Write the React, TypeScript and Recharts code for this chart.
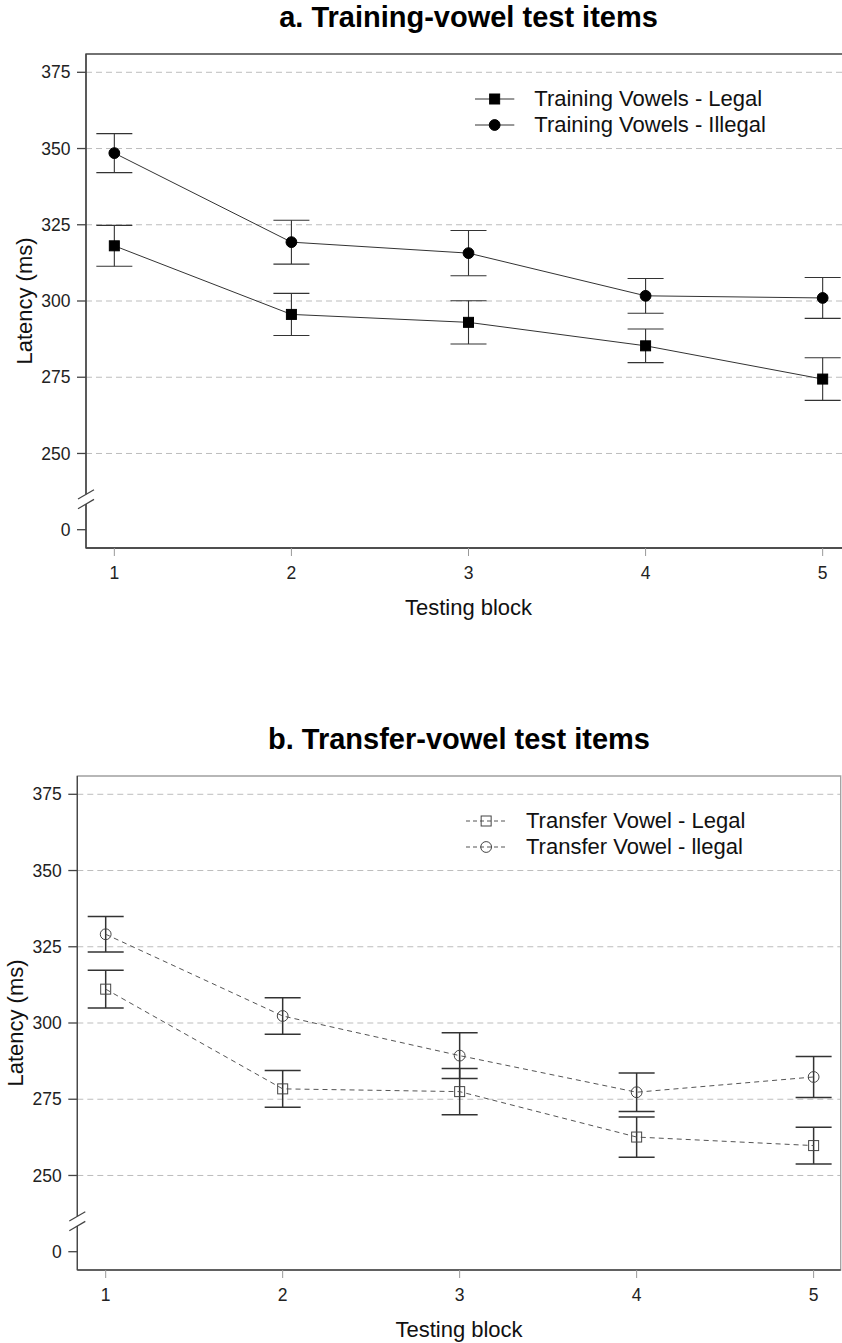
import { LineChart, Line, XAxis, YAxis, CartesianGrid, ErrorBar, ReferenceArea, Legend } from 'recharts'

const blocks = [1, 2, 3, 4, 5]

const trainLegal = [318.1, 295.6, 293.0, 285.3, 274.4]
const trainLegalErr = [6.7, 6.9, 7.1, 5.5, 7.0]
const trainIllegal = [348.5, 319.3, 315.7, 301.7, 301.0]
const trainIllegalErr = [6.4, 7.2, 7.4, 5.7, 6.7]

const transferLegal = [311.1, 278.4, 277.5, 262.6, 259.8]
const transferLegalErr = [6.2, 6.0, 7.6, 6.6, 6.0]
const transferIllegal = [329.1, 302.3, 289.3, 277.3, 282.3]
const transferIllegalErr = [5.8, 6.0, 7.5, 6.3, 6.7]

// broken axis: "0" is drawn one step below 250, the break marks sit between
const ZERO_POS = 225
const BREAK_POS = 235
const yTicks = [ZERO_POS, BREAK_POS, 250, 275, 300, 325, 350, 375]
const gridValues = [250, 275, 300, 325, 350, 375]
const Y_DOMAIN: [number, number] = [219, 381]

const FONT = '"Liberation Sans", Arial, Helvetica, sans-serif'
const TICK_SIZE = 9
const TICK_MARGIN = 6.5

function buildRows(legal: number[], legalErr: number[], illegal: number[], illegalErr: number[]) {
  return blocks.map((b, i) => ({
    block: b,
    legal: legal[i],
    legalErr: legalErr[i],
    illegal: illegal[i],
    illegalErr: illegalErr[i],
  }))
}

function marker(shape: 'square' | 'circle', open: boolean, cx: number, cy: number, key?: string | number) {
  const fill = open ? 'none' : '#000'
  const stroke = open ? '#444' : '#000'
  if (shape === 'square') {
    return <rect key={key} x={cx - 5} y={cy - 5} width={10} height={10} fill={fill} stroke={stroke} strokeWidth={1} />
  }
  return <circle key={key} cx={cx} cy={cy} r={5.4} fill={fill} stroke={stroke} strokeWidth={1} />
}

function YTick(props: any) {
  const { x, y, payload } = props
  const ax = x + TICK_SIZE + TICK_MARGIN
  const v = payload.value
  if (v === BREAK_POS) {
    return (
      <g>
        <line x1={ax} y1={y - 4.8} x2={ax} y2={y + 4.8} stroke="#fff" strokeWidth={3} />
        <line x1={ax - 8} y1={y - 0.15} x2={ax + 8} y2={y - 9.45} stroke="#444" strokeWidth={1.2} />
        <line x1={ax - 8} y1={y + 9.45} x2={ax + 8} y2={y + 0.15} stroke="#444" strokeWidth={1.2} />
      </g>
    )
  }
  return (
    <g>
      <line x1={ax - TICK_SIZE} y1={y} x2={ax} y2={y} stroke="#444" strokeWidth={1.3} />
      <text x={x} y={y} dy="0.35em" textAnchor="end" fontSize={17.5} fill="#222" fontFamily={FONT}>
        {v === ZERO_POS ? '0' : v}
      </text>
    </g>
  )
}

interface PanelProps {
  title: string
  rows: ReturnType<typeof buildRows>
  labels: [string, string]
  dashed: boolean
  open: boolean
  width: number
  axisWidth: number
  rightMargin: number
  xDomain: [number, number]
  yLabelX: number
  boxStroke: string
  legendLeft: number
  legendLineW: number
  errWidth: number
}

function Panel(p: PanelProps) {
  const lineStroke = p.dashed ? '#555' : '#333'
  const dash = p.dashed ? '5 4' : undefined
  const plotLeft = p.axisWidth
  const plotWidth = p.width - p.axisWidth - p.rightMargin

  const legend = () => (
    <div style={{ fontSize: 22, color: '#111', fontFamily: FONT }}>
      {p.labels.map((label, i) => (
        <div key={label} style={{ display: 'flex', alignItems: 'center', height: 26, whiteSpace: 'nowrap' }}>
          <svg width={p.legendLineW + 20} height={26} style={{ flex: 'none' }}>
            <line x1={0} y1={13} x2={p.legendLineW} y2={13} stroke={lineStroke} strokeWidth={1} strokeDasharray={p.dashed ? '4 3' : undefined} />
            {marker(i === 0 ? 'square' : 'circle', p.open, p.legendLineW / 2, 13)}
          </svg>
          <span>{label}</span>
        </div>
      ))}
    </div>
  )

  return (
    <div style={{ position: 'relative', width: 842, height: 640, overflow: 'hidden' }}>
      <div style={{
        position: 'absolute', left: plotLeft, width: plotWidth, top: 2.5, textAlign: 'center',
        fontFamily: FONT, fontWeight: 'bold', fontSize: 29, lineHeight: '29px', color: '#000',
      }}>
        {p.title}
      </div>
      <div style={{ position: 'absolute', left: 0, top: 0 }}>
        <LineChart width={p.width} height={640} data={p.rows} margin={{ top: 54, right: p.rightMargin, bottom: 22, left: 0 }}>
          <ReferenceArea x1={p.xDomain[0]} x2={p.xDomain[1]} y1={Y_DOMAIN[0]} y2={Y_DOMAIN[1]} fill="none" fillOpacity={0} stroke={p.boxStroke} strokeWidth={1.3} />
          <CartesianGrid horizontal vertical={false} horizontalValues={gridValues} stroke="#bdbdbd" strokeDasharray="6 4" />
          <XAxis
            type="number"
            dataKey="block"
            domain={p.xDomain}
            ticks={blocks}
            allowDataOverflow
            height={70}
            tickSize={8}
            tickMargin={11}
            tickLine={{ stroke: '#999' }}
            axisLine={{ stroke: '#444', strokeWidth: 1.3 }}
            tick={{ fontSize: 17.5, fill: '#222', fontFamily: FONT }}
            label={{ value: 'Testing block', position: 'insideBottom', offset: 3, style: { fontSize: 22, fill: '#111', fontFamily: FONT } }}
          />
          <YAxis
            type="number"
            domain={Y_DOMAIN}
            ticks={yTicks}
            interval={0}
            allowDataOverflow
            width={p.axisWidth}
            tickSize={TICK_SIZE}
            tickMargin={TICK_MARGIN}
            tickLine={false}
            axisLine={{ stroke: '#444', strokeWidth: 1.3 }}
            tick={(t: any) => <YTick {...t} />}
            label={{
              content: (lp: any) => {
                const vb = lp.viewBox || { x: 0, y: 54, width: p.axisWidth, height: 494 }
                const cx = vb.x + p.yLabelX
                const cy = vb.y + vb.height / 2
                return (
                  <text x={cx} y={cy} transform={`rotate(-90 ${cx} ${cy})`} textAnchor="middle" dominantBaseline="central"
                    fontSize={22} fill="#111" fontFamily={FONT}>
                    Latency (ms)
                  </text>
                )
              },
            }}
          />
          <Legend
            layout="vertical"
            align="center"
            verticalAlign="middle"
            wrapperStyle={{ left: p.legendLeft, top: 86, width: 380 }}
            content={legend}
          />
          <Line
            dataKey="legal"
            stroke={lineStroke}
            strokeWidth={1}
            strokeDasharray={dash}
            dot={(d: any) => marker('square', p.open, d.cx, d.cy, `s${d.index}`)}
            activeDot={false}
            isAnimationActive={false}
          >
            <ErrorBar dataKey="legalErr" width={p.errWidth} stroke="#333" strokeWidth={p.dashed ? 1.5 : 1.1} direction="y" isAnimationActive={false} />
          </Line>
          <Line
            dataKey="illegal"
            stroke={lineStroke}
            strokeWidth={1}
            strokeDasharray={dash}
            dot={(d: any) => marker('circle', p.open, d.cx, d.cy, `c${d.index}`)}
            activeDot={false}
            isAnimationActive={false}
          >
            <ErrorBar dataKey="illegalErr" width={p.errWidth} stroke="#333" strokeWidth={p.dashed ? 1.5 : 1.1} direction="y" isAnimationActive={false} />
          </Line>
        </LineChart>
      </div>
    </div>
  )
}

export default function App() {
  const rowsA = buildRows(trainLegal, trainLegalErr, trainIllegal, trainIllegalErr)
  const rowsB = buildRows(transferLegal, transferLegalErr, transferIllegal, transferIllegalErr)
  return (
    <div style={{ position: 'absolute', left: 0, top: 0, width: 842, height: 1343, overflow: 'hidden', background: '#fff', fontFamily: FONT }}>
      <div style={{ position: 'absolute', left: 0, top: 0 }}>
        <Panel
          title="a. Training-vowel test items"
          rows={rowsA}
          labels={['Training Vowels - Legal', 'Training Vowels - Illegal']}
          dashed={false}
          open={false}
          width={860}
          axisWidth={86}
          rightMargin={9}
          xDomain={[0.84, 5.16]}
          yLabelX={24}
          boxStroke="#444"
          legendLeft={475}
          legendLineW={39.3}
          errWidth={18}
        />
      </div>
      <div style={{ position: 'absolute', left: 0, top: 722 }}>
        <Panel
          title="b. Transfer-vowel test items"
          rows={rowsB}
          labels={['Transfer Vowel - Legal', 'Transfer Vowel - llegal']}
          dashed
          open
          width={842}
          axisWidth={77.3}
          rightMargin={1.3}
          xDomain={[0.8396, 5.153]}
          yLabelX={15.8}
          boxStroke="#a0a0a0"
          legendLeft={465.7}
          legendLineW={40.3}
          errWidth={18}
        />
      </div>
    </div>
  )
}
